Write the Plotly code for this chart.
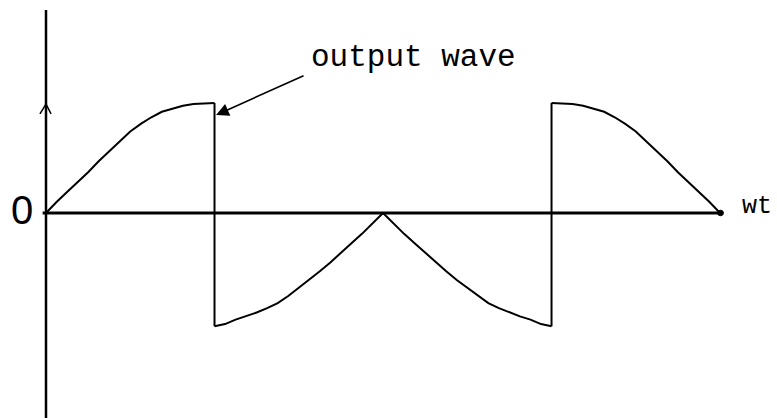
import plotly.graph_objects as go

# Waveform (x in quarter-periods, y in peak units), 1/16 steps
step_x = [i / 16 for i in range(17)]
q1_x = [0 + v for v in step_x]
q1_y = [0, 0.10, 0.19, 0.28, 0.37, 0.47, 0.56, 0.65, 0.74, 0.81, 0.87, 0.92, 0.95, 0.975, 0.99, 0.998, 1.0]
q2_x = [1 + v for v in step_x]
q2_y = [-1.03, -1.01, -0.97, -0.94, -0.905, -0.865, -0.82, -0.755, -0.68, -0.61, -0.53, -0.45,
        -0.36, -0.275, -0.19, -0.095, 0]
q3_x = [2 + v for v in step_x]
q3_y = [0, -0.095, -0.19, -0.275, -0.36, -0.45, -0.53, -0.61, -0.68, -0.755, -0.82, -0.865,
        -0.905, -0.94, -0.97, -1.01, -1.03]
q4_x = [3 + v for v in step_x]
q4_y = [1.0, 0.998, 0.99, 0.975, 0.95, 0.92, 0.87, 0.81, 0.74, 0.65, 0.56, 0.47, 0.37, 0.28, 0.19, 0.10, 0]
jump1_x = [1.0, 1.0]
jump1_y = [1.0, -1.03]
jump2_x = [3.0, 3.0]
jump2_y = [-1.03, 1.0]

label_text = "output wave"
axis_label = "wt"
origin_label = "0"

fig = go.Figure()
line = dict(color="black", width=2)
for xs, ys in [(q1_x, q1_y), (q2_x, q2_y), (q3_x, q3_y), (q4_x, q4_y)]:
    fig.add_trace(go.Scatter(x=xs, y=ys, mode="lines", line=line,
                             showlegend=False, hoverinfo="skip"))
for xs, ys in [(jump1_x, jump1_y), (jump2_x, jump2_y)]:
    fig.add_trace(go.Scatter(x=xs, y=ys, mode="lines", line=line, showlegend=False, hoverinfo="skip"))

# axes drawn as in the sketch
shapes = [
    dict(type="line", xref="x", yref="y", x0=-0.02, x1=4.0, y0=0, y1=0, line=dict(color="black", width=3)),
    dict(type="line", xref="x", yref="y", x0=0, x1=0, y0=1.845, y1=-1.9, line=dict(color="black", width=2.5)),
    dict(type="path", xref="x", yref="y", path="M -0.036,0.90 L 0,0.99 L 0.03,0.90",
         line=dict(color="black", width=1.5)),
    dict(type="circle", xref="x", yref="y", x0=3.985, x1=4.02, y0=-0.025, y1=0.025,
         fillcolor="black", line=dict(color="black", width=1)),
]

annotations = [
    dict(x=1.009, y=0.89, xref="x", yref="y", text="", showarrow=True, ax=89, ay=-40,
         arrowhead=2, arrowsize=1.6, arrowwidth=1.6, arrowcolor="black"),
    dict(x=2.178, y=1.41, xref="x", yref="y", text=label_text, showarrow=False,
         font=dict(family="Liberation Mono", size=31, color="black"), xanchor="center", yanchor="middle"),
    dict(x=-0.142, y=0.027, xref="x", yref="y", text=origin_label, showarrow=False,
         font=dict(family="Liberation Sans", size=40, color="black"), xanchor="center", yanchor="middle"),
    dict(x=4.22, y=0.055, xref="x", yref="y", text=axis_label, showarrow=False,
         font=dict(family="Liberation Mono", size=25, color="black"), xanchor="center", yanchor="middle"),
]

fig.update_layout(
    width=777, height=418,
    margin=dict(l=0, r=0, t=0, b=0),
    paper_bgcolor="white", plot_bgcolor="white",
    xaxis=dict(range=[-0.273, 4.338], visible=False, fixedrange=True),
    yaxis=dict(range=[-1.864, 1.936], visible=False, fixedrange=True),
    shapes=shapes, annotations=annotations,
    showlegend=False,
)
fig.write_html("out.html", config={"displayModeBar": False},
               post_script="document.body.style.margin='0';document.body.style.overflow='hidden';")
